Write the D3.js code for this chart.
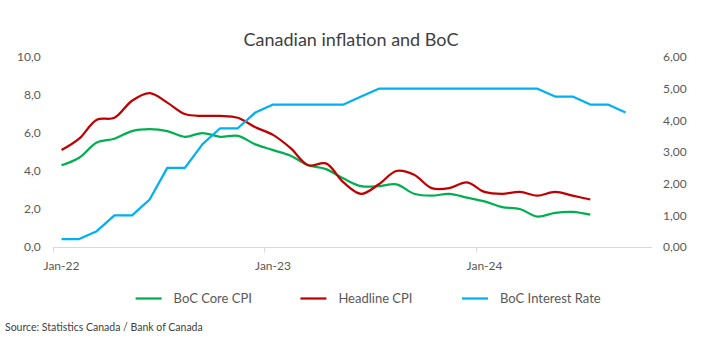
<!DOCTYPE html>
<html>
<head>
<meta charset="utf-8">
<script src="https://cdn.jsdelivr.net/npm/d3@7"></script>
<style>
  body { margin: 0; background: #fff; }
  svg text { font-family: Lato, "Open Sans", sans-serif; fill: #595959; }
</style>
</head>
<body>
<div id="chart"></div>
<script>
// monthly categories, Jan-22 .. Oct-24
const months = d3.timeMonths(new Date(2022, 0, 1), new Date(2024, 10, 1));

const coreCPI = [4.3, 4.7, 5.5, 5.7, 6.1, 6.2, 6.1, 5.8, 6.0, 5.8, 5.85, 5.4,
  5.1, 4.8, 4.3, 4.1, 3.6, 3.2, 3.2, 3.3, 2.8, 2.7, 2.8, 2.6,
  2.4, 2.1, 2.0, 1.6, 1.8, 1.85, 1.7];

const headlineCPI = [5.1, 5.7, 6.7, 6.8, 7.7, 8.1, 7.6, 7.0, 6.9, 6.9, 6.8, 6.3,
  5.9, 5.2, 4.3, 4.4, 3.4, 2.8, 3.3, 4.0, 3.8, 3.1, 3.1, 3.4,
  2.9, 2.8, 2.9, 2.7, 2.9, 2.7, 2.5];

const bocRate = [0.25, 0.25, 0.5, 1.0, 1.0, 1.5, 2.5, 2.5, 3.25, 3.75, 3.75, 4.25,
  4.5, 4.5, 4.5, 4.5, 4.5, 4.75, 5.0, 5.0, 5.0, 5.0, 5.0, 5.0,
  5.0, 5.0, 5.0, 5.0, 4.75, 4.75, 4.5, 4.5, 4.25];

const leftTicks = [0, 2, 4, 6, 8, 10];
const rightTicks = [0, 1, 2, 3, 4, 5, 6];
const xLabelMonths = [0, 12, 24]; // Jan-22, Jan-23, Jan-24

const series = [
  { name: "BoC Core CPI", values: coreCPI, color: "#00B050", axis: "left", smooth: true },
  { name: "Headline CPI", values: headlineCPI, color: "#C00000", axis: "left", smooth: true },
  { name: "BoC Interest Rate", values: bocRate, color: "#00B0F0", axis: "right", smooth: false },
];

const width = 706, height = 350;
const svg = d3.select("#chart").append("svg")
  .attr("width", width).attr("height", height);

const x = d3.scaleBand().domain(months.map((d, i) => i)).range([52.7, 652]);
const yL = d3.scaleLinear().domain([0, 10]).range([247, 57]);
const yR = d3.scaleLinear().domain([0, 6]).range([247, 57]);
const comma = (f) => (v) => d3.format(f)(v).replace(".", ",");

// title
svg.append("text")
  .attr("x", 351).attr("y", 46)
  .attr("text-anchor", "middle")
  .style("font-size", "18px").style("fill", "#404040")
  .text("Canadian inflation and BoC");

// left axis
const gL = svg.append("g")
  .attr("transform", `translate(${x.range()[0]},0)`)
  .call(d3.axisLeft(yL).tickValues(leftTicks).tickSize(0).tickPadding(12).tickFormat(comma(".1f")));
gL.select(".domain").remove();
gL.selectAll("text").style("font-size", "12px").style("fill", "#595959");

// right axis
const gR = svg.append("g")
  .attr("transform", `translate(${x.range()[1]},0)`)
  .call(d3.axisRight(yR).tickValues(rightTicks).tickSize(0).tickPadding(11).tickFormat(comma(".2f")));
gR.select(".domain").remove();
gR.selectAll("text").style("font-size", "12px").style("fill", "#595959");

// x axis
const gX = svg.append("g").attr("transform", `translate(0,${yL(0) + 0.5})`);
gX.append("line")
  .attr("x1", x.range()[0]).attr("x2", x.range()[1])
  .attr("stroke", "#d9d9d9").attr("stroke-width", 1);
gX.selectAll("line.tick")
  .data(xLabelMonths)
  .join("line")
  .attr("class", "tick")
  .attr("x1", (d) => Math.round(x(d)) + 0.5).attr("x2", (d) => Math.round(x(d)) + 0.5)
  .attr("y1", 0).attr("y2", 5)
  .attr("stroke", "#d9d9d9");
const fmtMonth = d3.timeFormat("%b-%y");
gX.selectAll("text")
  .data(xLabelMonths)
  .join("text")
  .attr("x", (d) => x(d) + x.bandwidth() / 2)
  .attr("y", 22)
  .attr("text-anchor", "middle")
  .style("font-size", "12px")
  .text((d) => fmtMonth(months[d]));

// lines
for (const s of series) {
  const y = s.axis === "left" ? yL : yR;
  const line = d3.line()
    .x((d, i) => x(i) + x.bandwidth() / 2)
    .y((d) => y(d))
    .curve(s.smooth ? d3.curveCatmullRom.alpha(0.5) : d3.curveLinear);
  svg.append("path")
    .datum(s.values)
    .attr("fill", "none")
    .attr("stroke", s.color)
    .attr("stroke-width", 2.25)
    .attr("stroke-linejoin", "round")
    .attr("d", line);
}

// legend
const legendPos = [135.6, 300.4, 462];
const gLeg = svg.append("g");
series.forEach((s, i) => {
  gLeg.append("line")
    .attr("x1", legendPos[i]).attr("x2", legendPos[i] + 26)
    .attr("y1", 298.5).attr("y2", 298.5)
    .attr("stroke", s.color).attr("stroke-width", 2.25);
  gLeg.append("text")
    .attr("x", legendPos[i] + 38).attr("y", 303)
    .style("font-size", "13px")
    .text(s.name);
});

// source
svg.append("text")
  .attr("x", 5).attr("y", 331)
  .style("font-size", "10.5px").style("fill", "#404040")
  .text("Source: Statistics Canada / Bank of Canada");
</script>
</body>
</html>
